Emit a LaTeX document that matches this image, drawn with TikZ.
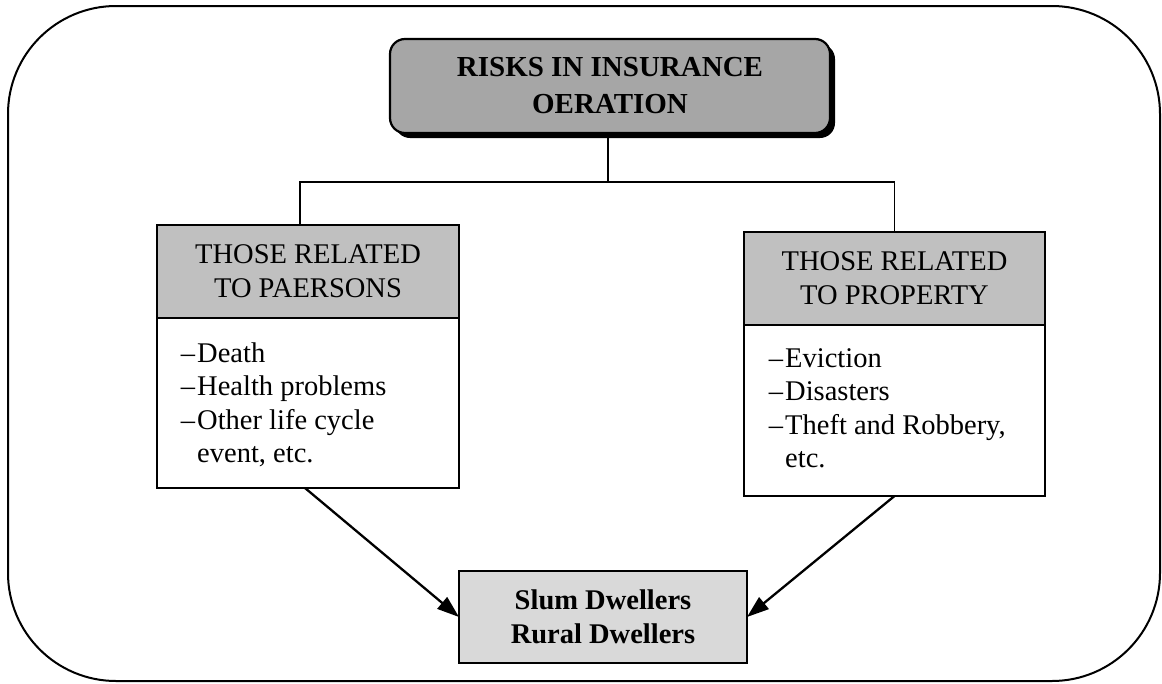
\documentclass[tikz,border=0pt]{standalone}
\usepackage{fontspec}
\setmainfont{Liberation Serif}
\usetikzlibrary{shadows,arrows.meta}

\tikzset{
  box/.style={draw=black, line width=2.2pt, inner sep=0pt, outer sep=0pt},
  headbox/.style={box, fill=hdgray, align=center,
    font=\fontsize{28.5}{34}\selectfont},
  bodybox/.style={box, fill=white},
  itemtext/.style={align=left, inner sep=0pt, anchor=base west,
    font=\fontsize{28.5}{33.5}\selectfont},
  link/.style={draw=black, line width=1.5pt},
  arrowlink/.style={draw=black, line width=2.3pt,
    -{Triangle[length=22pt,width=15pt]}},
}
\definecolor{topgray}{HTML}{A6A6A6}
\definecolor{hdgray}{HTML}{C0C0C0}
\definecolor{lowgray}{HTML}{D9D9D9}

\newcommand{\itm}{\llap{--\hspace{2pt}}}

\begin{document}
\begin{tikzpicture}[x=1pt, y=-1pt]
  \useasboundingbox (0,0) rectangle (1162,683);

  % outer frame
  \draw[line width=2pt, rounded corners=108pt] (8,6) rectangle (1160,681);

  % title box with drop shadow
  \node[box, fill=topgray, rounded corners=15pt, minimum width=440pt,
        minimum height=94pt, align=center,
        font=\bfseries\fontsize{29}{37}\selectfont,
        drop shadow={shadow xshift=5pt, shadow yshift=-5pt, opacity=1, fill=black}]
    (top) at (610,86) {RISKS IN INSURANCE\\OERATION};

  % persons column
  \node[headbox, minimum width=302pt, minimum height=93pt]
    (pershead) at (308,271.5) {THOSE RELATED\\TO PAERSONS};
  \node[bodybox, minimum width=302pt, minimum height=170pt]
    (persbody) at (308,403) {};
  % base anchor sits on the last line
  \node[itemtext] (persitems) at (197,462.5)
    {\itm Death\\\itm Health problems\\\itm Other life cycle\\event, etc.};

  % property column
  \node[headbox, minimum width=301pt, minimum height=93pt]
    (prophead) at (894.5,278.5) {THOSE RELATED\\TO PROPERTY};
  \node[bodybox, minimum width=301pt, minimum height=171pt]
    (propbody) at (894.5,410.5) {};
  \node[itemtext] (propitems) at (785,467.5)
    {\itm Eviction\\\itm Disasters\\\itm Theft and Robbery,\\etc.};

  % target box
  \node[box, fill=lowgray, minimum width=288pt, minimum height=92pt,
        align=center, font=\bfseries\fontsize{28.5}{34}\selectfont]
    (dwell) at (603,617) {Slum Dwellers\\Rural Dwellers};

  % tree connectors
  \coordinate (split) at (608,182);
  \draw[link] (top.south -| split) -- (split);
  \draw[link] ([xshift=-8pt]pershead.north) |- (split)
              -| (prophead.north);

  % arrows to target
  \draw[arrowlink] ([xshift=-3pt]persbody.south) -- (dwell.west);
  \draw[arrowlink] (propbody.south) -- (dwell.east);
\end{tikzpicture}
\end{document}
